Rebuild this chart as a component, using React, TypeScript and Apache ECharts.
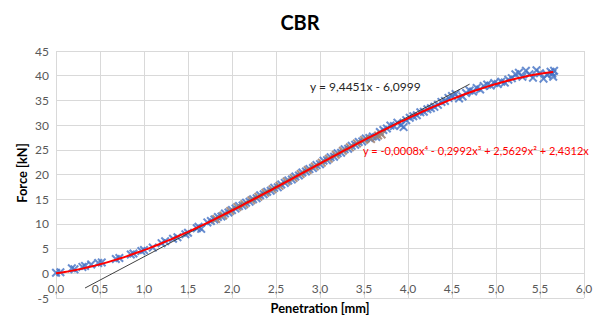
import React, { useEffect, useRef } from "react";
import * as echarts from "echarts";

const chartTitle = "CBR";
const xAxisTitle = "Penetration [mm]";
const yAxisTitle = "Force [kN]";
const linearLabel = "y = 9,4451x - 6,0999";
const polyLabel = "y = -0,0008x⁴ - 0,2992x³ + 2,5629x² + 2,4312x";

// measured points (blue)
const blueData: [number, number][] = [
  [0, 0.1], [0.05, 0.2], [0.18, 1.0], [0.21, 0.8], [0.3, 1.3], [0.33, 1.5], [0.4, 1.8], [0.48, 2.1],
  [0.52, 2.2], [0.68, 2.9], [0.72, 3.1], [0.85, 3.8], [0.88, 4.0], [0.97, 4.5], [1.0, 4.7], [1.1, 5.2],
  [1.2, 6.1], [1.24, 6.5], [1.33, 7.0], [1.38, 7.3], [1.47, 7.9], [1.5, 8.2], [1.6, 9.1], [1.62, 9.4],
  [1.65, 9.0], [1.72, 10.3], [1.76, 10.6], [1.8, 10.9], [1.84, 11.4], [1.88, 11.5], [1.92, 12.1],
  [1.96, 12.3], [2.0, 12.8], [2.04, 13.1], [2.08, 13.6], [2.12, 13.7], [2.16, 14.3], [2.2, 14.5],
  [2.24, 15.0], [2.28, 15.2], [2.32, 15.8], [2.36, 16.0], [2.4, 16.5], [2.44, 16.7], [2.48, 17.3],
  [2.52, 17.4], [2.56, 18.0], [2.6, 18.3], [2.64, 18.8], [2.68, 19.0], [2.72, 19.6], [2.76, 19.8],
  [2.8, 20.4], [2.84, 20.6], [2.88, 21.1], [2.92, 21.3], [2.96, 21.9], [3.0, 22.1], [3.04, 22.8],
  [3.08, 22.9], [3.12, 23.5], [3.16, 23.6], [3.2, 24.3], [3.24, 24.4], [3.28, 25.1], [3.32, 25.2],
  [3.36, 25.8], [3.4, 26.0], [3.44, 26.6], [3.48, 26.7], [3.52, 27.3], [3.56, 27.4], [3.6, 27.7],
  [3.64, 27.6], [3.68, 28.6], [3.72, 29.0], [3.76, 29.3], [3.8, 29.9], [3.84, 29.8], [3.88, 30.5],
  [3.92, 30.0], [3.95, 29.6], [3.98, 31.0], [4.02, 31.5], [4.06, 31.8], [4.1, 32.0], [4.14, 32.6],
  [4.18, 32.7], [4.22, 33.2], [4.26, 33.4], [4.3, 33.7], [4.34, 34.1], [4.38, 34.7], [4.42, 34.9],
  [4.46, 35.5], [4.5, 35.9], [4.54, 36.3], [4.58, 35.4], [4.62, 35.8], [4.66, 36.5], [4.7, 37.0],
  [4.74, 36.8], [4.78, 37.5], [4.82, 37.2], [4.86, 37.9], [4.9, 38.2], [4.94, 38.0], [4.98, 38.5],
  [5.02, 38.3], [5.06, 38.8], [5.1, 38.6], [5.14, 39.2], [5.18, 39.5], [5.22, 40.3], [5.26, 40.6],
  [5.3, 39.8], [5.34, 41.0], [5.38, 40.3], [5.42, 39.6], [5.46, 41.1], [5.5, 40.5], [5.54, 39.4],
  [5.58, 40.2], [5.62, 40.8], [5.64, 40.4], [5.65, 39.8], [5.66, 41.0],
];

// points used for the linear fit (brown)
const fitData: [number, number][] = [
  [1.82, 11.0], [1.9, 11.7], [1.98, 12.6], [2.06, 13.4], [2.14, 14.0], [2.22, 14.8], [2.3, 15.5],
  [2.38, 16.3], [2.46, 17.0], [2.54, 17.7], [2.62, 18.6], [2.7, 19.3], [2.78, 20.1], [2.86, 20.9],
  [2.94, 21.6], [3.02, 22.4], [3.1, 23.2], [3.18, 24.0], [3.26, 24.8], [3.34, 25.5], [3.42, 26.3],
  [3.5, 27.0], [3.58, 27.2], [3.66, 27.9], [3.7, 28.1],
];

// linear trendline end points
const linearX = [0.33, 4.7];
const linearY = [-2.98, 38.29];

// polynomial trendline readings
const polyX = [0, 0.1, 0.2, 0.3, 0.4, 0.5, 0.6, 0.7, 0.8, 0.9, 1.0, 1.1, 1.2, 1.3, 1.4, 1.5, 1.6, 1.7, 1.8, 1.9,
  2.0, 2.1, 2.2, 2.3, 2.4, 2.5, 2.6, 2.7, 2.8, 2.9, 3.0, 3.1, 3.2, 3.3, 3.4, 3.5, 3.6, 3.7, 3.8, 3.9,
  4.0, 4.1, 4.2, 4.3, 4.4, 4.5, 4.6, 4.7, 4.8, 4.9, 5.0, 5.1, 5.2, 5.3, 5.4, 5.5, 5.6, 5.65];
const polyY = [0, 0.27, 0.59, 0.95, 1.36, 1.82, 2.32, 2.86, 3.43, 4.05, 4.69, 5.38, 6.09, 6.83, 7.6, 8.4, 9.22, 10.06, 10.93, 11.81,
  12.71, 13.62, 14.55, 15.49, 16.43, 17.39, 18.35, 19.32, 20.28, 21.25, 22.22, 23.18, 24.14, 25.09, 26.03, 26.96, 27.87, 28.78, 29.66, 30.53,
  31.38, 32.2, 33.01, 33.78, 34.53, 35.25, 35.94, 36.59, 37.21, 37.79, 38.33, 38.83, 39.29, 39.7, 40.07, 40.39, 40.66, 40.77];

const X_MARK =
  "path://M0,1.6 L1.6,0 L5,3.4 L8.4,0 L10,1.6 L6.6,5 L10,8.4 L8.4,10 L5,6.6 L1.6,10 L0,8.4 L3.4,5 Z";

const FONT = "Lato, 'Open Sans', sans-serif";

export default function App() {
  const ref = useRef<HTMLDivElement>(null);
  useEffect(() => {
    if (!ref.current) return;
    document.body.style.margin = "0";
    const chart = echarts.init(ref.current, undefined, { renderer: "svg" });
    const gridColor = "#d9d9d9";
    const plotH = 315 - 51 - 17;
    chart.setOption({
      animation: false,
      backgroundColor: "#ffffff",
      textStyle: { fontFamily: FONT },
      grid: { left: 56, right: 17, top: 51, bottom: 17, containLabel: false },
      xAxis: {
        type: "value",
        min: 0,
        max: 6,
        interval: 0.5,
        offset: -(plotH / 10),
        axisLine: { show: true, onZero: false, lineStyle: { color: gridColor } },
        axisTick: { show: false },
        axisLabel: {
          margin: 9,
          color: "#595959",
          fontSize: 12,
          fontFamily: FONT,
          formatter: (v: number) => v.toFixed(1).replace(".", ","),
        },
        splitLine: { show: true, lineStyle: { color: gridColor, width: 1 } },
      },
      yAxis: {
        type: "value",
        min: -5,
        max: 45,
        interval: 5,
        axisLine: { show: false },
        axisTick: { show: false },
        axisLabel: { margin: 7, color: "#595959", fontSize: 12, fontFamily: FONT },
        splitLine: { show: true, lineStyle: { color: gridColor, width: 1 } },
      },
      graphic: [
        {
          type: "text",
          x: 300,
          y: 22,
          style: { text: chartTitle, align: "center", verticalAlign: "middle", fill: "#000", font: `bold 20px ${FONT}` },
        },
        {
          type: "text",
          x: 320,
          y: 308,
          style: { text: xAxisTitle, align: "center", verticalAlign: "middle", fill: "#000", font: `bold 12.8px ${FONT}` },
        },
        {
          type: "text",
          x: 22,
          y: 173,
          rotation: Math.PI / 2,
          style: { text: yAxisTitle, align: "center", verticalAlign: "middle", fill: "#000", font: `bold 12.8px ${FONT}` },
        },
        {
          type: "text",
          x: 310,
          y: 86,
          z: 100,
          style: { text: linearLabel, align: "left", verticalAlign: "middle", fill: "#262626", font: `12px ${FONT}` },
        },
        {
          type: "text",
          x: 363,
          y: 150,
          z: 100,
          style: { text: polyLabel, align: "left", verticalAlign: "middle", fill: "#ff0000", font: `11px ${FONT}` },
        },
      ],
      series: [
        {
          type: "scatter",
          data: blueData,
          symbol: X_MARK,
          symbolSize: 9,
          itemStyle: { color: "#4472c4" },
          z: 2,
        },
        {
          type: "scatter",
          data: fitData,
          symbol: X_MARK,
          symbolSize: 9,
          itemStyle: { color: "#a08070", opacity: 0.85 },
          z: 3,
        },
        {
          type: "line",
          data: linearX.map((x, i) => [x, linearY[i]]),
          symbol: "none",
          lineStyle: { color: "#404040", width: 1 },
          z: 4,
        },
        {
          type: "line",
          data: polyX.map((x, i) => [x, polyY[i]]),
          symbol: "none",
          smooth: true,
          lineStyle: { color: "#ff0000", width: 2 },
          z: 5,
        },
      ],
    });
    return () => chart.dispose();
  }, []);
  return <div ref={ref} style={{ width: 601, height: 315, position: "fixed", left: 0, top: 0 }} />;
}
